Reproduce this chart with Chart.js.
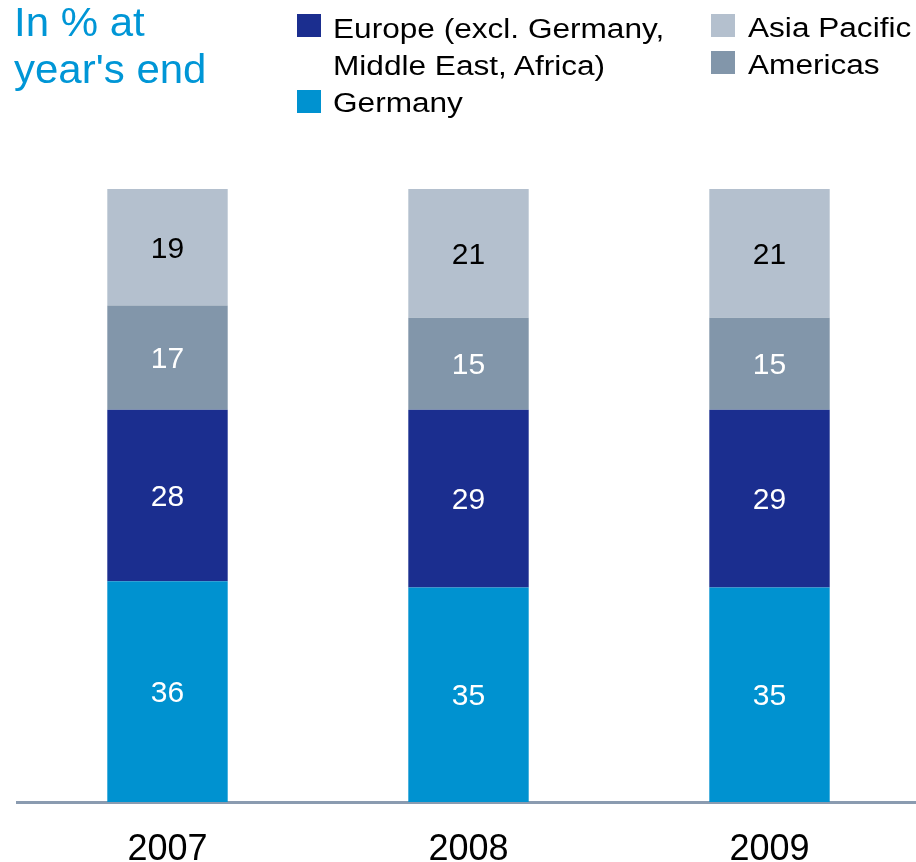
<!DOCTYPE html>
<html>
<head>
<meta charset="utf-8">
<script src="https://cdn.jsdelivr.net/npm/chart.js@4.4.1/dist/chart.umd.min.js"></script>
<style>
  html, body { margin: 0; padding: 0; background: #fff; overflow: hidden; width: 916px; height: 862px; }
  #wrap { position: absolute; left: 0; top: 0; width: 925px; height: 900px; }
  #title { position: absolute; left: 14px; top: -1px; font: 40px/47px "Liberation Sans", Arial, sans-serif; color: #0096D6; transform: scaleX(1.05); transform-origin: 0 0; white-space: nowrap; }
  .leg { position: absolute; font: 27px/37px "Liberation Sans", Arial, sans-serif; color: #000; transform: scaleX(1.17); transform-origin: 0 0; white-space: nowrap; }
  .sw { position: absolute; width: 24px; height: 23px; }
</style>
</head>
<body>
<div id="wrap"><canvas id="c" width="925" height="900"></canvas></div>
<div id="title">In % at<br>year's end</div>
<div class="sw" style="left:297px;top:14px;background:#1B2E8F"></div>
<div class="leg" style="left:333px;top:11px">Europe (excl. Germany,<br>Middle East, Africa)</div>
<div class="sw" style="left:297px;top:90px;background:#0092D0"></div>
<div class="leg" style="left:333px;top:85px">Germany</div>
<div class="sw" style="left:711px;top:14px;background:#B4C0CE"></div>
<div class="leg" style="left:748px;top:10px">Asia Pacific</div>
<div class="sw" style="left:711px;top:51px;background:#8296AA"></div>
<div class="leg" style="left:748px;top:47px">Americas</div>
<script>
const years = ['2007', '2008', '2009'];
const germany = [36, 35, 35];
const europe = [28, 29, 29];
const americas = [17, 15, 15];
const asiaPacific = [19, 21, 21];

const labelPlugin = {
  id: 'segLabels',
  afterDatasetsDraw(chart) {
    const ctx = chart.ctx;
    ctx.save();
    ctx.font = '30px "Liberation Sans", Arial, sans-serif';
    ctx.textAlign = 'center';
    ctx.textBaseline = 'middle';
    chart.data.datasets.forEach((ds, i) => {
      const meta = chart.getDatasetMeta(i);
      meta.data.forEach((bar, j) => {
        const p = bar.getProps(['x', 'y', 'base'], true);
        ctx.fillStyle = ds.labelColor;
        ctx.fillText(String(ds.data[j]), p.x, (p.y + p.base) / 2 + 2);
      });
    });
    ctx.restore();
  }
};

new Chart(document.getElementById('c'), {
  type: 'bar',
  data: {
    labels: years,
    datasets: [
      { label: 'Germany', data: germany, backgroundColor: '#0092D0', labelColor: '#fff' },
      { label: 'Europe (excl. Germany, Middle East, Africa)', data: europe, backgroundColor: '#1B2E8F', labelColor: '#fff' },
      { label: 'Americas', data: americas, backgroundColor: '#8296AA', labelColor: '#fff' },
      { label: 'Asia Pacific', data: asiaPacific, backgroundColor: '#B4C0CE', labelColor: '#000' }
    ]
  },
  options: {
    responsive: false,
    animation: false,
    events: [],
    layout: { padding: { top: 189, left: 17, right: 5, bottom: 2 } },
    datasets: { bar: { barPercentage: 0.4, categoryPercentage: 1, borderWidth: 0 } },
    plugins: { legend: { display: false }, tooltip: { enabled: false } },
    scales: {
      x: {
        stacked: true,
        grid: { display: false, drawTicks: false },
        border: { display: true, color: '#8A9BB0', width: 3 },
        ticks: { color: '#000', padding: 30, font: { size: 36, family: '"Liberation Sans", Arial, sans-serif', lineHeight: 1 } }
      },
      y: {
        stacked: true,
        display: false,
        min: 0,
        max: 100
      }
    }
  },
  plugins: [labelPlugin]
});
</script>
</body>
</html>
